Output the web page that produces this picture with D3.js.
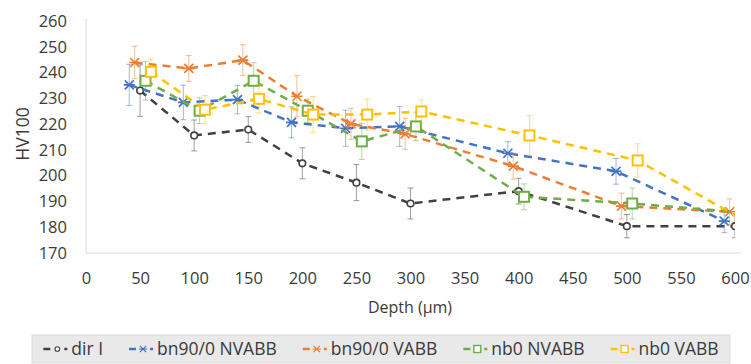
<!DOCTYPE html>
<html>
<head>
<meta charset="utf-8">
<script src="https://cdn.jsdelivr.net/npm/d3@7"></script>
<style>
  html, body { margin: 0; padding: 0; background: #fff; }
  svg { display: block; font-family: "Open Sans", "Noto Sans", sans-serif; }
</style>
</head>
<body>
<svg id="chart" width="751" height="364"></svg>
<script>
// ---- data ----
const seriesNames = ["dir I", "bn90/0 NVABB", "bn90/0 VABB", "nb0 NVABB", "nb0 VABB"];
const xTicks = [0, 50, 100, 150, 200, 250, 300, 350, 400, 450, 500, 550, 600];
const yTicks = [170, 180, 190, 200, 210, 220, 230, 240, 250, 260];

const dirI_x   = [50, 100, 150, 200, 250, 300, 400, 500, 600];
const dirI_y   = [233, 215.6, 217.9, 204.8, 197.3, 189.2, 194, 180.4, 180.4];
const dirI_err = [10, 6, 5, 6, 7, 6, 5, 4.5, 4.5];

const bnNV_x   = [40, 90, 140, 190, 240, 290, 390, 490, 590];
const bnNV_y   = [235.2, 228.4, 229.5, 220.7, 218.4, 219.1, 208.7, 201.7, 182.4];
const bnNV_err = [8, 6.7, 5.5, 6, 7, 7.7, 4.5, 5, 4.5];

const bnV_x    = [45, 95, 145, 195, 245, 295, 395, 495, 595];
const bnV_y    = [243.9, 241.6, 244.8, 230.8, 220.1, 216.2, 203.7, 188.2, 186];
const bnV_err  = [6.3, 5, 6, 8, 6, 6, 5, 5, 5];

const nbNV_x   = [55, 105, 155, 205, 255, 305, 405, 505, 605];
const nbNV_y   = [236.8, 225.2, 236.8, 225.2, 213.3, 219.1, 191.8, 189.2, 185.8];
const nbNV_err = [7.5, 5, 7, 4.5, 7, 5.5, 5, 6, 4];

const nbV_x    = [60, 110, 160, 210, 260, 310, 410, 510, 610];
const nbV_y    = [240.3, 225.6, 229.8, 223.7, 223.7, 224.9, 215.6, 205.9, 182.3];
const nbV_err  = [5, 5.5, 5.5, 7, 6, 4.5, 7.7, 6.5, 5];

const colors  = ["#404040", "#4472C4", "#ED7D31", "#70AD47", "#FFC000"];
const markers = ["circle", "star", "star", "square", "square"];

const series = [
  {x: dirI_x, y: dirI_y, e: dirI_err},
  {x: bnNV_x, y: bnNV_y, e: bnNV_err},
  {x: bnV_x,  y: bnV_y,  e: bnV_err},
  {x: nbNV_x, y: nbNV_y, e: nbNV_err},
  {x: nbV_x,  y: nbV_y,  e: nbV_err}
].map((s, i) => ({
  name: seriesNames[i], color: colors[i], marker: markers[i],
  pts: s.x.map((xv, j) => ({x: xv, y: s.y[j], e: s.e[j]}))
}));

// ---- layout ----
const svg = d3.select("#chart");
const pLeft = 86, pRight = 735, pTop = 21, pBottom = 253;
const x = d3.scaleLinear().domain([0, 600]).range([pLeft, pRight]);
const y = d3.scaleLinear().domain([170, 260]).range([pBottom, pTop]);

svg.append("defs").append("clipPath").attr("id", "plotClip")
  .append("rect").attr("x", pLeft - 10).attr("y", 0).attr("width", pRight - pLeft + 10).attr("height", 300);

// axes lines
svg.append("line").attr("x1", pLeft).attr("x2", pLeft).attr("y1", pTop - 2).attr("y2", pBottom)
  .attr("stroke", "#d9d9d9").attr("stroke-width", 1);
svg.append("line").attr("x1", pLeft).attr("x2", pRight + 6).attr("y1", pBottom).attr("y2", pBottom)
  .attr("stroke", "#d9d9d9").attr("stroke-width", 1);

// tick labels via axes
const yAxis = d3.axisLeft(y).tickValues(yTicks).tickSize(0).tickPadding(0);
const gy = svg.append("g").attr("transform", `translate(${pLeft - 19},0)`).call(yAxis);
gy.select(".domain").remove();
gy.selectAll("text").attr("font-size", 16.5).attr("fill", "#3a3a3a")
  .attr("font-family", "'Open Sans', sans-serif");

const xAxis = d3.axisBottom(x).tickValues(xTicks).tickSize(0).tickPadding(0);
const gx = svg.append("g").attr("transform", `translate(0,${pBottom + 19})`).call(xAxis);
gx.select(".domain").remove();
gx.selectAll("text").attr("font-size", 16.5).attr("fill", "#3a3a3a")
  .attr("font-family", "'Open Sans', sans-serif");

// axis titles
svg.append("text").attr("x", 410).attr("y", 313).attr("text-anchor", "middle")
  .attr("font-size", 16).attr("fill", "#3a3a3a").text("Depth (µm)");
svg.append("text").attr("transform", "translate(29,134) rotate(-90)").attr("text-anchor", "middle")
  .attr("font-size", 17.5).attr("fill", "#3a3a3a").text("HV100");

// marker drawer
function drawMarker(g, type, color, cx, cy, k = 1) {
  if (type === "circle") {
    g.append("circle").attr("cx", cx).attr("cy", cy).attr("r", 3.3 * k)
      .attr("fill", "#fff").attr("stroke", color).attr("stroke-width", 1.6 * k);
  } else if (type === "square") {
    const h = 5 * k;
    g.append("rect").attr("x", cx - h).attr("y", cy - h).attr("width", 2 * h).attr("height", 2 * h)
      .attr("fill", "#fff").attr("stroke", color).attr("stroke-width", 2 * k);
  } else {
    const s = 4.5 * k;
    const p = `M${cx - s},${cy - s}L${cx + s},${cy + s}M${cx - s},${cy + s}L${cx + s},${cy - s}M${cx - s - 1},${cy}L${cx + s + 1},${cy}`;
    g.append("path").attr("d", p).attr("stroke", color).attr("stroke-width", 1.7 * k).attr("fill", "none");
  }
}

const plot = svg.append("g").attr("clip-path", "url(#plotClip)");
const line = d3.line().x(d => x(d.x)).y(d => y(d.y));

series.forEach(s => {
  const g = plot.append("g");
  // error bars
  s.pts.forEach(p => {
    if (p.x > 600) return;
    const cx = x(p.x);
    g.append("line").attr("x1", cx).attr("x2", cx).attr("y1", y(p.y + p.e)).attr("y2", y(p.y - p.e))
      .attr("stroke", s.color).attr("stroke-opacity", 0.5).attr("stroke-width", 1);
    [p.y + p.e, p.y - p.e].forEach(v => {
      g.append("line").attr("x1", cx - 3).attr("x2", cx + 3).attr("y1", y(v)).attr("y2", y(v))
        .attr("stroke", s.color).attr("stroke-opacity", 0.5).attr("stroke-width", 1);
    });
  });
  g.append("path").datum(s.pts).attr("d", line).attr("fill", "none")
    .attr("stroke", s.color).attr("stroke-width", 2.5).attr("stroke-dasharray", "8,6");
  s.pts.forEach(p => { if (p.x <= 600) drawMarker(g, s.marker, s.color, x(p.x), y(p.y)); });
});

// legend
const lg = svg.append("g");
lg.append("rect").attr("x", 32).attr("y", 335).attr("width", 698).attr("height", 28)
  .attr("fill", "#e9e9e9").attr("stroke", "#dcdcdc");
const items = lg.append("g");
let off = 0;
const gap = 26;
series.forEach((s, i) => {
  const it = items.append("g").attr("transform", `translate(${off},0)`);
  it.append("line").attr("x1", 0).attr("x2", 7).attr("y1", 0).attr("y2", 0)
    .attr("stroke", s.color).attr("stroke-width", 2.5);
  drawMarker(it, s.marker, s.color, 14, 0, 0.7);
  it.append("line").attr("x1", 21).attr("x2", 24).attr("y1", 0).attr("y2", 0)
    .attr("stroke", s.color).attr("stroke-width", 2.5);
  const t = it.append("text").attr("x", 28).attr("y", 6).attr("font-size", 17.5)
    .attr("fill", "#3a3a3a").text(s.name);
  off += 28 + t.node().getComputedTextLength() + gap;
});
const totalW = off - gap;
items.attr("transform", `translate(${381 - totalW / 2},349)`);
</script>
</body>
</html>
